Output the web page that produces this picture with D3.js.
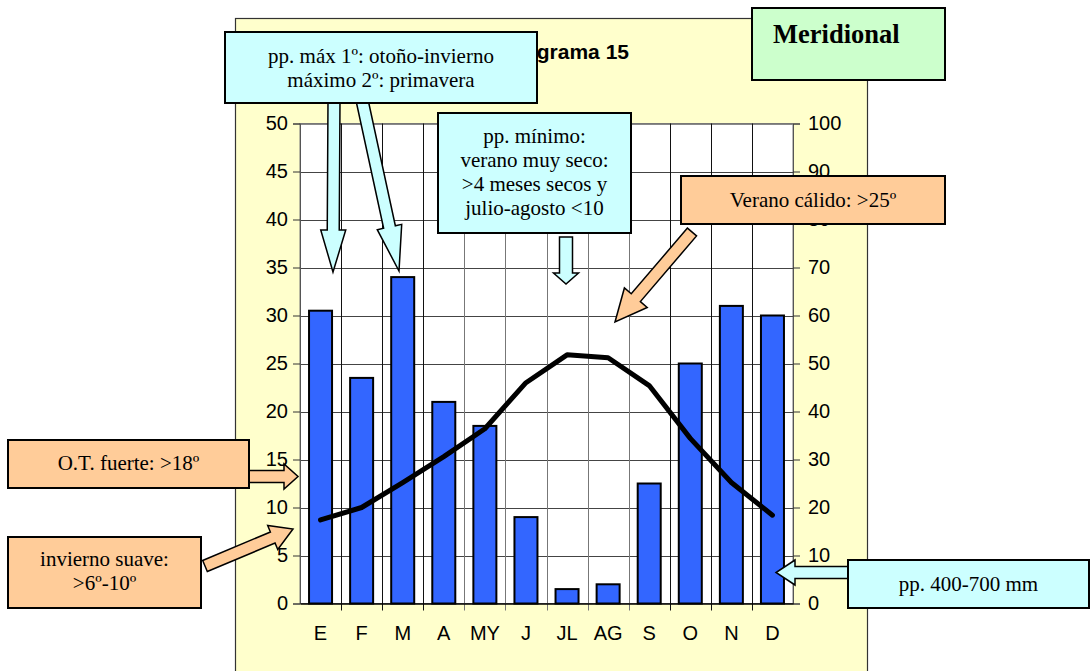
<!DOCTYPE html>
<html>
<head>
<meta charset="utf-8">
<script src="https://cdn.jsdelivr.net/npm/d3@7"></script>
<style>
  body { margin: 0; background: #fff; }
  svg { display: block; }
</style>
</head>
<body>
<div id="chart"></div>
<script>
// monthly climate data
const months = ['E', 'F', 'M', 'A', 'MY', 'J', 'JL', 'AG', 'S', 'O', 'N', 'D']
const precip = [61, 47, 68, 42, 37, 18, 3, 4, 25, 50, 62, 60]          // mm, right axis
const temp = [8.7, 10, 12.6, 15.3, 18.2, 23, 25.9, 25.6, 22.7, 17.2, 12.6, 9.2] // ºC, left axis
const leftTicks = [0, 5, 10, 15, 20, 25, 30, 35, 40, 45, 50]
const rightTicks = [0, 10, 20, 30, 40, 50, 60, 70, 80, 90, 100]

const width = 1090
const height = 671
const serif = "'Liberation Serif', 'Times New Roman', serif"
const sans = "'Liberation Sans', Arial, sans-serif"

const svg = d3.select('#chart').append('svg')
  .attr('width', width)
  .attr('height', height)

const plot = { left: 300, right: 793, top: 123.5, bottom: 603.5 }

const x = d3.scaleBand().domain(months).range([plot.left, plot.right])
const yL = d3.scaleLinear().domain([0, 50]).range([plot.bottom, plot.top])
const yR = d3.scaleLinear().domain([0, 100]).range([plot.bottom, plot.top])

// yellow panel
svg.append('rect')
  .attr('x', 235.5).attr('y', 18.5)
  .attr('width', 632).attr('height', 680)
  .attr('fill', '#FFFFCC')
  .attr('stroke', '#333').attr('stroke-width', 1.2)

// title (mostly hidden behind the box)
svg.append('text')
  .attr('x', 629).attr('y', 59)
  .attr('text-anchor', 'end')
  .attr('font-family', sans).attr('font-weight', 'bold').attr('font-size', 21)
  .text('Climograma 15')

// plot area
svg.append('rect')
  .attr('x', plot.left).attr('y', plot.top)
  .attr('width', plot.right - plot.left).attr('height', plot.bottom - plot.top)
  .attr('fill', '#fff')
  .attr('stroke', '#777')

// horizontal gridlines
svg.append('g').selectAll('line')
  .data(leftTicks.slice(1))
  .enter().append('line')
  .attr('x1', plot.left).attr('x2', plot.right)
  .attr('y1', d => Math.round(yL(d)) + 0.5).attr('y2', d => Math.round(yL(d)) + 0.5)
  .attr('stroke', d => d === 50 ? '#888' : '#444')

// vertical gridlines at month boundaries
const bounds = d3.range(1, months.length).map(i => plot.left + i * x.step())
svg.append('g').selectAll('line')
  .data(bounds)
  .enter().append('line')
  .attr('x1', d => Math.round(d) + 0.5).attr('x2', d => Math.round(d) + 0.5)
  .attr('y1', plot.top).attr('y2', plot.bottom + 7)
  .attr('stroke', (d, i) => (i >= 3 && i <= 7) ? '#777' : '#111')

// axes
const leftAxis = svg.append('g')
  .attr('transform', 'translate(' + plot.left + ',0)')
  .call(d3.axisLeft(yL).tickValues(leftTicks).tickSize(7).tickPadding(5))
const rightAxis = svg.append('g')
  .attr('transform', 'translate(' + plot.right + ',0)')
  .call(d3.axisRight(yR).tickValues(rightTicks).tickSize(7).tickPadding(8))
const bottomAxis = svg.append('g')
  .attr('transform', 'translate(0,' + plot.bottom + ')')
  .call(d3.axisBottom(x).tickSize(0).tickPadding(22))

;[leftAxis, rightAxis, bottomAxis].forEach(function (g) {
  g.selectAll('text')
    .attr('font-family', sans).attr('font-size', 20).attr('fill', '#000')
  g.selectAll('line').attr('stroke', '#333')
  g.select('.domain').attr('stroke', '#555')
})
bottomAxis.select('.domain').attr('stroke', '#000').attr('stroke-width', 1.5)
bottomAxis.selectAll('text').attr('dy', '0.71em')

// precipitation bars
const bw = x.bandwidth() * 0.56
svg.append('g').selectAll('rect')
  .data(precip)
  .enter().append('rect')
  .attr('x', (d, i) => x(months[i]) + (x.bandwidth() - bw) / 2)
  .attr('y', d => yR(d))
  .attr('width', bw)
  .attr('height', d => plot.bottom - yR(d))
  .attr('fill', '#3366FF')
  .attr('stroke', '#000').attr('stroke-width', 2)

// temperature line
const line = d3.line()
  .x((d, i) => x(months[i]) + x.bandwidth() / 2)
  .y(d => yL(d))
svg.append('path')
  .datum(temp)
  .attr('d', line)
  .attr('fill', 'none')
  .attr('stroke', '#000').attr('stroke-width', 5)
  .attr('stroke-linejoin', 'round').attr('stroke-linecap', 'round')

// block arrow from (x1,y1) to tip (x2,y2)
function arrow (x1, y1, x2, y2, shaft, head, headLen, fill) {
  const len = Math.hypot(x2 - x1, y2 - y1)
  const ux = (x2 - x1) / len
  const uy = (y2 - y1) / len
  const nx = -uy
  const ny = ux
  const bx = x2 - ux * headLen
  const by = y2 - uy * headLen
  const pts = [
    [x1 + nx * shaft / 2, y1 + ny * shaft / 2],
    [bx + nx * shaft / 2, by + ny * shaft / 2],
    [bx + nx * head / 2, by + ny * head / 2],
    [x2, y2],
    [bx - nx * head / 2, by - ny * head / 2],
    [bx - nx * shaft / 2, by - ny * shaft / 2],
    [x1 - nx * shaft / 2, y1 - ny * shaft / 2]
  ]
  svg.append('polygon')
    .attr('points', pts.map(p => p.join(',')).join(' '))
    .attr('fill', fill)
    .attr('stroke', '#000').attr('stroke-width', 1.5)
    .attr('stroke-linejoin', 'miter')
}

function box (x0, y0, w, h, fill, lines, opts) {
  opts = opts || {}
  svg.append('rect')
    .attr('x', x0).attr('y', y0).attr('width', w).attr('height', h)
    .attr('fill', fill)
    .attr('stroke', '#000').attr('stroke-width', 2)
  const t = svg.append('text')
    .attr('font-family', serif)
    .attr('font-size', opts.size || 21)
    .attr('font-weight', opts.weight || 'normal')
    .attr('text-anchor', opts.anchor || 'middle')
  lines.forEach(function (s, i) {
    t.append('tspan')
      .attr('x', opts.tx || x0 + w / 2)
      .attr('y', opts.ty + i * (opts.lh || 24))
      .text(s)
  })
}

const cyan = '#CCFFFF'
const orange = '#FFCC99'

arrow(334, 100, 333, 272, 12, 25, 42, cyan)
arrow(362, 100, 399, 271, 12, 25, 45, cyan)
box(225, 32, 312, 71, cyan, ['pp. máx 1º: otoño-invierno', 'máximo 2º: primavera'], { ty: 63 })

box(752, 8, 193, 72, '#CCFFCC', ['Meridional'], { size: 26.5, weight: 'bold', anchor: 'start', tx: 773, ty: 43 })

box(438, 113, 193, 120, cyan, ['pp. mínimo:', 'verano muy seco:', '>4 meses secos y', 'julio-agosto <10'], { ty: 143 })
arrow(566, 237, 566, 284, 13, 25, 11, cyan)

arrow(692, 232, 615, 322, 12, 30, 32, orange)
box(681, 176, 264, 48, orange, ['Verano cálido: >25º'], { ty: 207 })

arrow(248, 476.5, 298, 476.5, 12, 25, 14, orange)
box(8, 440, 241, 48, orange, ['O.T. fuerte: >18º'], { ty: 470 })

arrow(205, 566, 293, 529, 12, 26, 22, orange)
box(8, 537, 193, 71, orange, ['invierno suave:', '>6º-10º'], { ty: 566 })

arrow(849, 572.5, 776, 572.5, 12, 25, 19, cyan)
box(848, 560, 241, 48, cyan, ['pp. 400-700 mm'], { ty: 591 })
</script>
</body>
</html>
